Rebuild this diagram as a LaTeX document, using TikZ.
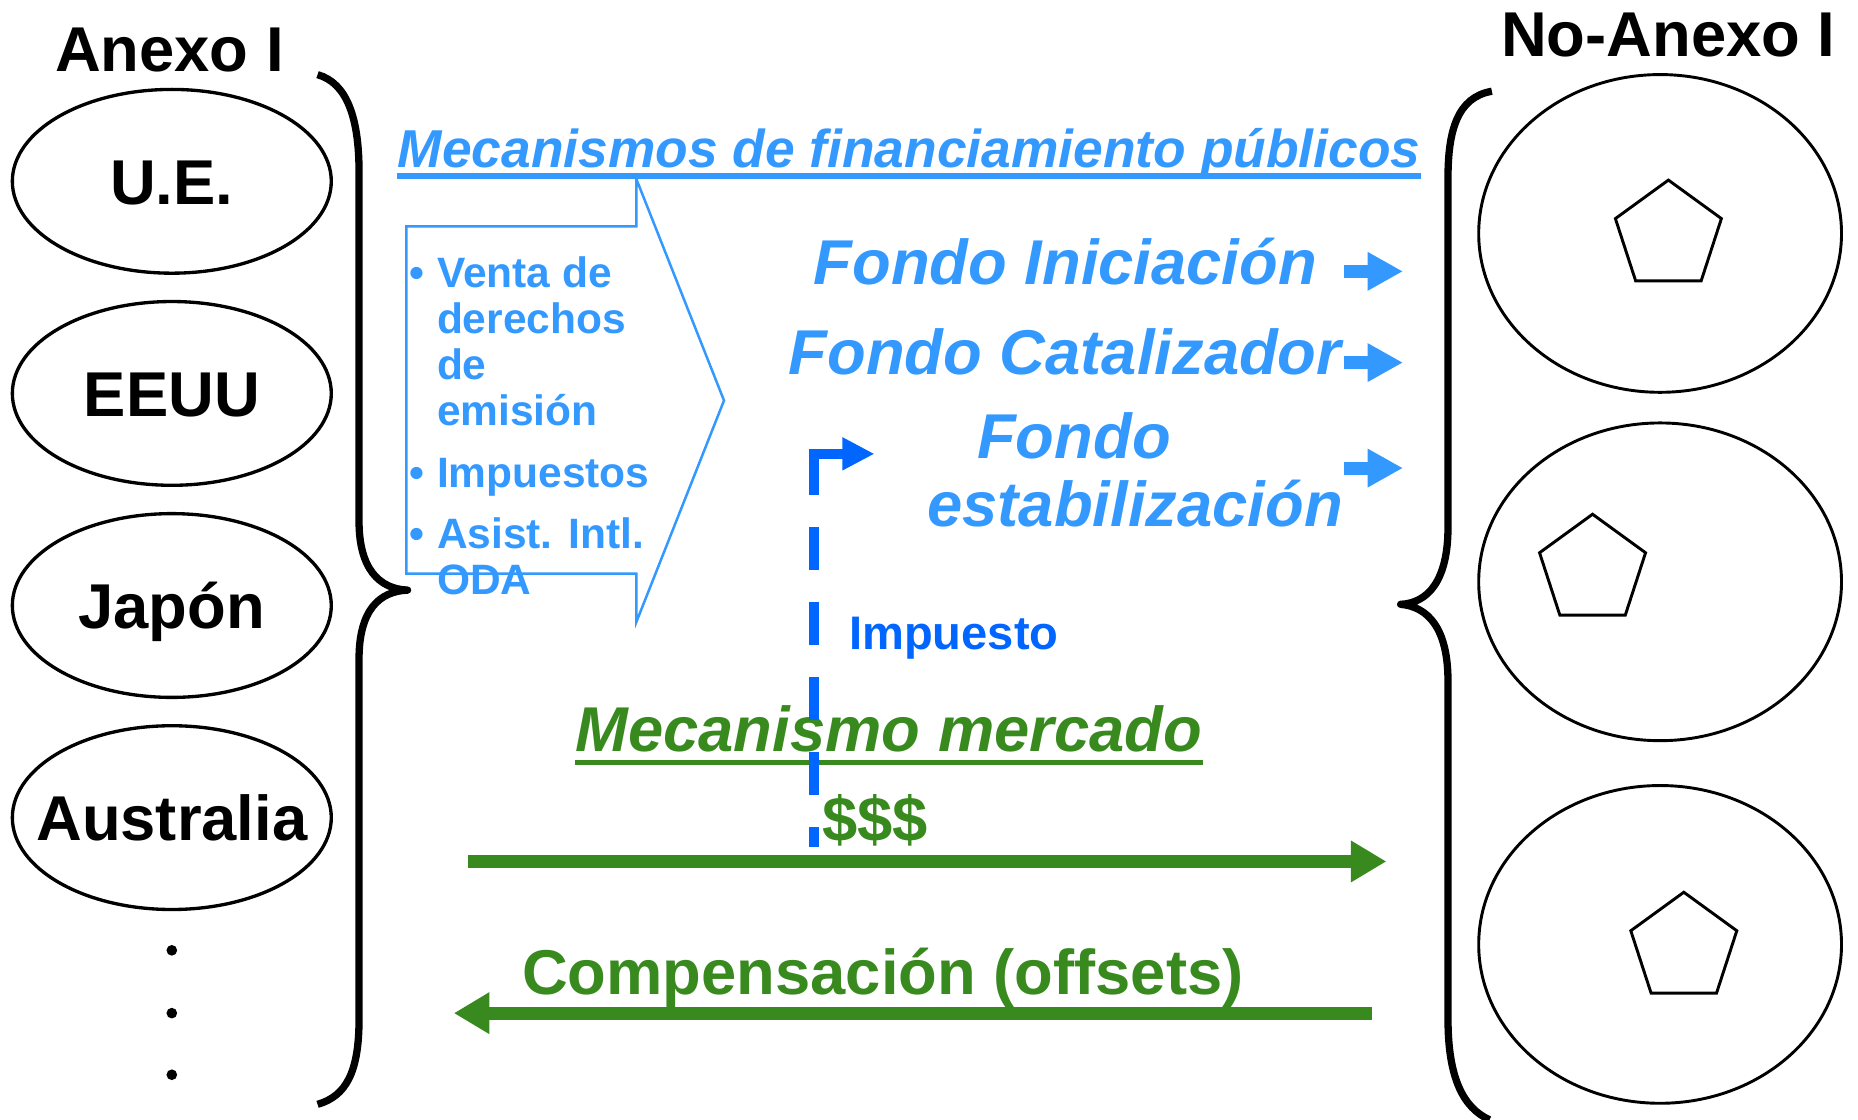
\documentclass[tikz,border=0pt]{standalone}
\usepackage{fontspec}
\setmainfont{Liberation Sans}
\usepackage{xcolor}
\usepackage{tikz}
\usetikzlibrary{shapes.geometric,arrows.meta}

\definecolor{fundblue}{RGB}{51,153,255}
\definecolor{taxblue}{RGB}{0,102,255}
\definecolor{mktgreen}{RGB}{56,138,30}

\tikzset{
    heading/.style={inner sep=0pt, font=\fontsize{15.2}{18}\selectfont\bfseries},
    country/.style={ellipse, draw, line width=0.8pt, minimum width=2.69cm, minimum height=1.55cm, inner sep=0pt, text height=10.9pt, text depth=0pt, font=\fontsize{15.2}{18}\selectfont\bfseries},
    party/.style={ellipse, draw, line width=0.7pt, minimum width=3.06cm, minimum height=2.68cm},
    member/.style={regular polygon, regular polygon sides=5, draw, line width=0.7pt, minimum size=0.94cm, inner sep=0pt},
    bracestroke/.style={line width=1.75pt, line join=round},
    fund/.style={fundblue, inner sep=0pt, anchor=base west, font=\fontsize{15.2}{18}\selectfont\bfseries\itshape},
    fundarrow/.style={fundblue, line width=3.1pt, -{Triangle[length=8.5pt, width=8.7pt]}},
    mktarrow/.style={mktgreen, line width=3.1pt, -{Triangle[length=8.5pt, width=9.4pt]}},
    taxarrow/.style={taxblue, line width=2.4pt, {Triangle[length=7.7pt, width=7.4pt]}-,
        dash pattern=on 17.1pt off 7.7pt on 10.3pt off 7.7pt on 10.3pt off 7.7pt on 10.3pt off 7.7pt on 10.3pt off 7.7pt on 10.3pt off 30pt},
}

\begin{document}
\begin{tikzpicture}[x=0.01cm, y=-0.01cm]
    \useasboundingbox (0,0) rectangle (1568,945);

    % Anexo I
    \node[heading, anchor=base] (annex) at (143,60) {Anexo I};
    \node[country] (ue) at (145,153) {U.E.};
    \node[country] (us) at (145,332) {EEUU};
    \node[country] (jp) at (145,511) {Japón};
    \node[country] (au) at (145,690) {\makebox[0pt]{Australia}};
    \foreach \y in {802,855,907}
        \fill (145,\y) circle (4.5);
    \draw[bracestroke] (268,63) .. controls (293,70) and (303,100) .. (303,145) -- (303,440)
        .. controls (303,480) and (320,497) .. (344,498) .. controls (320,499) and (303,515) .. (303,556)
        -- (303,860) .. controls (303,905) and (292,925) .. (268,932);

    % No-Anexo I
    \node[heading, anchor=base] (nonannex) at (1408,48) {No-Anexo I};
    \node[party] (na1) at (1401,197) {};
    \node[party] (na2) at (1401,491) {};
    \node[party] (na3) at (1401,797) {};
    \node[member] (m1) at (1408,199) {};
    \node[member] (m2) at (1344,481) {};
    \node[member] (m3) at (1421,800) {};
    \draw[bracestroke] (1259,77) .. controls (1230,82) and (1222,110) .. (1222,150) -- (1222,445)
        .. controls (1222,490) and (1205,509) .. (1182,510) .. controls (1205,512) and (1222,530) .. (1222,575)
        -- (1222,860) .. controls (1222,910) and (1235,935) .. (1257,945);

    % public funding
    \node[fund, font=\fontsize{12.8}{15}\selectfont\bfseries\itshape] (public) at (335,141) {Mecanismos de financiamiento públicos};
    \draw[fundblue, line width=1.3pt] ([yshift=-2.1pt]public.base west) -- ([yshift=-2.1pt]public.base east);
    \draw[fundblue, line width=0.6pt] (343,191) -- (537,191) -- (537,151) -- (611,338) -- (537,525) -- (537,484) -- (343,484) -- cycle;
    \node[fundblue, anchor=base west, inner sep=0pt, font=\fontsize{10.2}{11}\selectfont\bfseries] (sources) at (345,243) {%
        \begin{tabular}[t]{@{}l@{\hspace{3pt}}l@{}}
            \textbullet & Venta de\\ & derechos\\ & de\\ & emisión\\[3.8pt]
            \textbullet & Impuestos\\[3.8pt]
            \textbullet & Asist. Intl.\\ & ODA
        \end{tabular}};
    \node[fund] (ini) at (686,240) {Fondo Iniciación};
    \node[fund] (cat) at (665,316) {Fondo Catalizador};
    \node[fund] (est1) at (824,387) {Fondo};
    \node[fund] (est2) at (782,444) {estabilización};
    \foreach \y/\n in {229/ini,306/cat,395/est}{
        \coordinate (\n-from) at (1134,\y);
        \coordinate (\n-to) at (1184,\y);
        \draw[fundarrow] (\n-from) -- (\n-to);
    }

    % market
    \node[fund, mktgreen] (market) at (485,634) {Mecanismo mercado};
    \draw[mktgreen, line width=1.4pt] ([yshift=-2.7pt]market.base west) -- ([yshift=-2.7pt]market.base east);
    \node[heading, mktgreen, anchor=base west] (money) at (693,710) {\$\$\$};
    \node[heading, mktgreen, anchor=base west] (offsets) at (440,839) {Compensación (offsets)};
    \coordinate (pay-from) at (395,727);
    \coordinate (pay-to) at (1170,727);
    \coordinate (off-from) at (1158,855);
    \coordinate (off-to) at (383,855);
    \draw[mktarrow] (pay-from) -- (pay-to);
    \draw[mktarrow] (off-from) -- (off-to);

    % tax
    \node[taxblue, anchor=base west, inner sep=0pt, font=\fontsize{11.3}{13}\selectfont\bfseries] (tax) at (716,548) {Impuesto};
    \coordinate (tax-from) at (687,715);
    \coordinate (tax-to) at (738,383);
    \draw[taxarrow] (tax-to) -- (tax-from |- tax-to) -- (tax-from);
\end{tikzpicture}
\end{document}
